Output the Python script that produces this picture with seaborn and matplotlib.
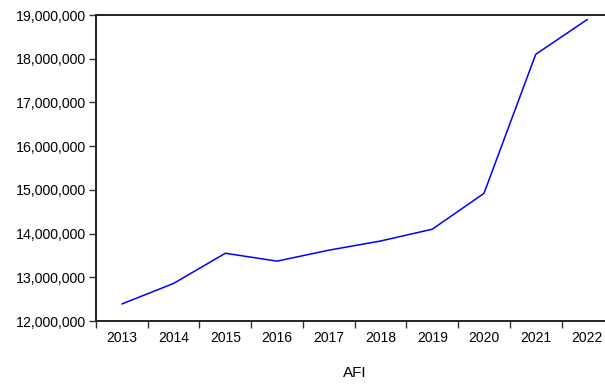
import matplotlib
matplotlib.use("Agg")
import matplotlib.pyplot as plt
import matplotlib.ticker as mticker
import numpy as np
import pandas as pd
import seaborn as sns

years = ["2013", "2014", "2015", "2016", "2017", "2018", "2019", "2020", "2021", "2022"]
afi = [12390000, 12860000, 13550000, 13370000, 13620000, 13830000, 14100000, 14920000, 18100000, 18900000]
y_ticks = [12000000, 13000000, 14000000, 15000000, 16000000, 17000000, 18000000, 19000000]

sns.set_style("ticks")
plt.rcParams["font.family"] = ["Liberation Sans", "DejaVu Sans"]

df = pd.DataFrame({"pos": np.arange(len(years)), "AFI": afi})

fig = plt.figure(figsize=(6.05, 3.87), dpi=100)
ax = fig.add_axes([0.1587, 0.1705, 0.855, 0.7907])

sns.lineplot(data=df, x="pos", y="AFI", ax=ax, color="#0000ff", linewidth=1.1)

ax.set_xlim(-0.5, len(years) - 0.5)
ax.set_ylim(y_ticks[0], y_ticks[-1])

# year labels centred in each period, tick marks on period boundaries
ax.set_xticks(np.arange(len(years)))
ax.set_xticklabels(years)
ax.set_xticks(np.arange(len(years) + 1) - 0.5, minor=True)
ax.tick_params(axis="x", which="major", length=0, pad=7, labelsize=10, labelcolor="black")
ax.tick_params(axis="x", which="minor", length=5, width=1, direction="out", color="#333333")

ax.set_yticks(y_ticks)
ax.yaxis.set_major_formatter(mticker.FuncFormatter(lambda v, p: f"{int(v):,}"))
ax.tick_params(axis="y", length=5, width=1, direction="out", pad=2, labelsize=10.2,
               labelcolor="black", color="#333333")

for side in ["left", "right", "top", "bottom"]:
    ax.spines[side].set_visible(True)
    ax.spines[side].set_color("#222222")
    ax.spines[side].set_linewidth(1.4)

ax.set_ylabel("")
ax.set_xlabel("AFI", fontsize=11, color="black", labelpad=15)

fig.savefig("out.png", dpi=100, facecolor="white")
